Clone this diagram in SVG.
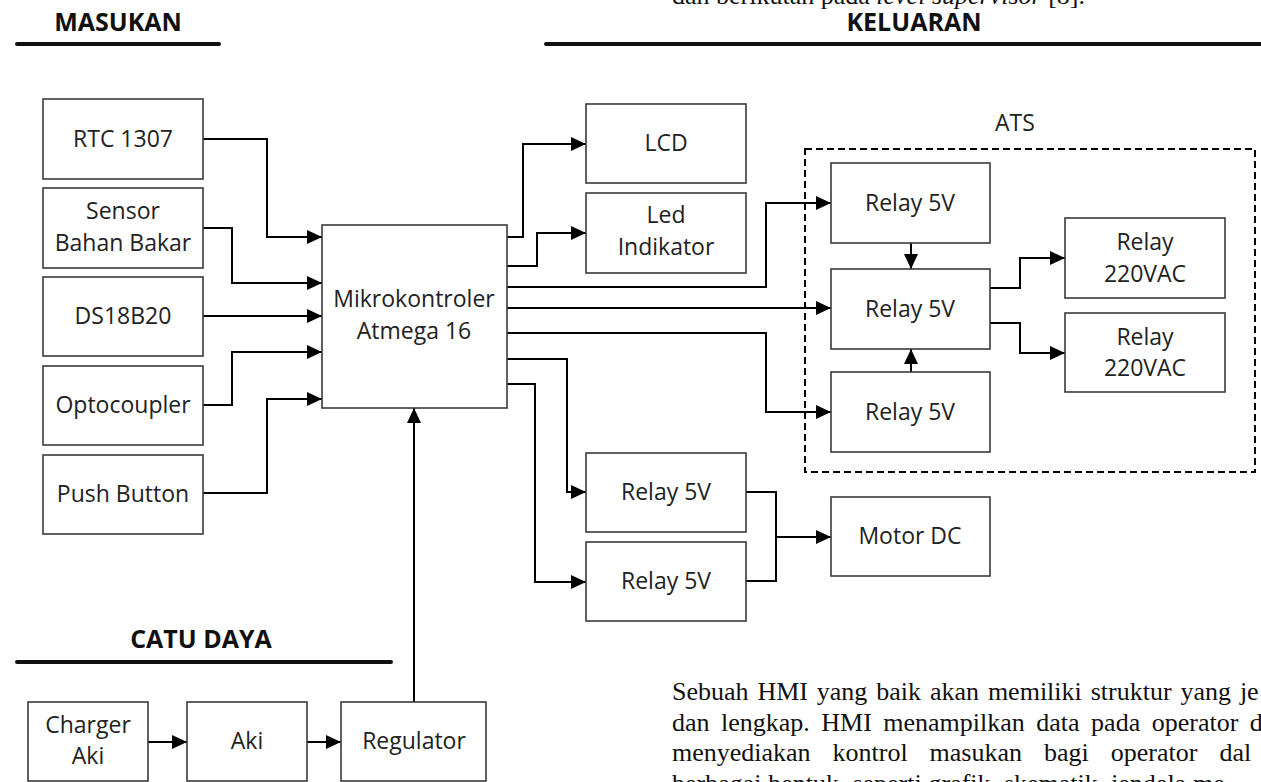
<svg xmlns="http://www.w3.org/2000/svg" width="1261" height="782" viewBox="0 0 1261 782">
<defs>
<marker id="arr" viewBox="0 0 15 14" refX="15" refY="7" markerWidth="15" markerHeight="14" markerUnits="userSpaceOnUse" orient="auto"><path d="M0,0 L15,7 L0,14 z" fill="#000"/></marker>
<style>
.box{fill:#fff;stroke:#3a3a3a;stroke-width:1.6}
.lbl{font-family:"Open Sans","Liberation Sans",sans-serif;font-size:23px;fill:#222;text-anchor:middle}
.hdr{font-family:"Open Sans","Liberation Sans",sans-serif;font-size:25px;font-weight:bold;fill:#111;text-anchor:middle}
.rule{stroke:#111;stroke-width:4;stroke-linecap:round}
.con{fill:none;stroke:#000;stroke-width:2}
.body{font-family:"Liberation Serif","Times New Roman",serif;font-size:26px;fill:#111}
</style>
</defs>
<rect width="1261" height="782" fill="#fff"/>

<!-- body text -->
<text class="body" x="672" y="4">dan berikutan pada <tspan font-style="italic">level supervisor</tspan> [8].</text>
<text class="body" y="700"><tspan x="672">Sebuah</tspan><tspan x="757.4">HMI</tspan><tspan x="816.8">yang</tspan><tspan x="876.2">baik</tspan><tspan x="929.9">akan</tspan><tspan x="987.9">memiliki</tspan><tspan x="1090.7">struktur</tspan><tspan x="1180.5">yang</tspan><tspan x="1239.9">je</tspan></text>
<text class="body" y="730.5"><tspan x="672">dan</tspan><tspan x="721">lengkap.</tspan><tspan x="821.3">HMI</tspan><tspan x="883.3">menampilkan</tspan><tspan x="1036.3">data</tspan><tspan x="1091.1">pada</tspan><tspan x="1151.7">operator</tspan><tspan x="1249.8">d</tspan></text>
<text class="body" y="761"><tspan x="672">menyediakan</tspan><tspan x="832.6">kontrol</tspan><tspan x="929.6">masukan</tspan><tspan x="1044">bagi</tspan><tspan x="1110.8">operator</tspan><tspan x="1219.4">dal</tspan></text>
<text class="body" y="792"><tspan x="672">berbagai</tspan><tspan x="768.3">bentuk,</tspan><tspan x="852.4">seperti</tspan><tspan x="928.5">grafik,</tspan><tspan x="1003.9">skematik,</tspan><tspan x="1111.1">jendela</tspan><tspan x="1193">me</tspan></text>

<!-- section headers -->
<g id="hdr-masukan"><text class="hdr" x="118" y="31">MASUKAN</text><line class="rule" x1="17" y1="44" x2="219" y2="44"/></g>
<g id="hdr-keluaran"><text class="hdr" x="914" y="31">KELUARAN</text><line class="rule" x1="546" y1="44" x2="1265" y2="44"/></g>
<g id="hdr-catu"><text class="hdr" x="201" y="648">CATU DAYA</text><line class="rule" x1="17" y1="662" x2="391" y2="662"/></g>

<!-- ATS group -->
<g id="ats">
<rect x="805" y="149" width="450" height="323" fill="none" stroke="#000" stroke-width="2" stroke-dasharray="7 4"/>
<text class="lbl" x="1015" y="131">ATS</text>
</g>

<!-- connectors -->
<g id="connectors">
<path class="con" d="M203,139 H267 V237 H322" marker-end="url(#arr)"/>
<path class="con" d="M203,228 H232 V283 H322" marker-end="url(#arr)"/>
<path class="con" d="M203,316 H322" marker-end="url(#arr)"/>
<path class="con" d="M203,405 H232 V352 H322" marker-end="url(#arr)"/>
<path class="con" d="M203,493 H267 V399 H322" marker-end="url(#arr)"/>
<path class="con" d="M507,237 H523 V144 H586" marker-end="url(#arr)"/>
<path class="con" d="M507,266 H537 V233 H586" marker-end="url(#arr)"/>
<path class="con" d="M507,287 H766 V203 H831" marker-end="url(#arr)"/>
<path class="con" d="M507,308 H831" marker-end="url(#arr)"/>
<path class="con" d="M507,333 H766 V412 H831" marker-end="url(#arr)"/>
<path class="con" d="M507,359 H567 V492 H586" marker-end="url(#arr)"/>
<path class="con" d="M507,384 H535 V582 H586" marker-end="url(#arr)"/>
<path class="con" d="M911,243 V269" marker-end="url(#arr)"/>
<path class="con" d="M911,372 V349" marker-end="url(#arr)"/>
<path class="con" d="M990,288 H1020 V258 H1065" marker-end="url(#arr)"/>
<path class="con" d="M990,323 H1020 V353 H1065" marker-end="url(#arr)"/>
<path class="con" d="M746,492 H776 V581 H746"/>
<path class="con" d="M776,537 H831" stroke-width="3" marker-end="url(#arr)"/>
<path class="con" d="M148,742 H187" marker-end="url(#arr)"/>
<path class="con" d="M307,742 H341" marker-end="url(#arr)"/>
<path class="con" d="M414,702 V408" marker-end="url(#arr)"/>
</g>

<!-- input nodes -->
<g id="rtc"><rect class="box" x="43" y="99" width="160" height="80"/><text class="lbl" x="123" y="147">RTC 1307</text></g>
<g id="sensor"><rect class="box" x="43" y="188" width="160" height="80"/><text class="lbl" x="123" y="219">Sensor</text><text class="lbl" x="123" y="251">Bahan Bakar</text></g>
<g id="ds18b20"><rect class="box" x="43" y="277" width="160" height="79"/><text class="lbl" x="123" y="324">DS18B20</text></g>
<g id="opto"><rect class="box" x="43" y="366" width="160" height="79"/><text class="lbl" x="123" y="413">Optocoupler</text></g>
<g id="push"><rect class="box" x="43" y="455" width="160" height="79"/><text class="lbl" x="123" y="502">Push Button</text></g>

<!-- controller -->
<g id="mcu"><rect class="box" x="322" y="225" width="185" height="183"/><text class="lbl" x="414" y="307">Mikrokontroler</text><text class="lbl" x="414" y="339">Atmega 16</text></g>

<!-- outputs -->
<g id="lcd"><rect class="box" x="586" y="104" width="160" height="79"/><text class="lbl" x="666" y="151">LCD</text></g>
<g id="led"><rect class="box" x="586" y="193" width="160" height="80"/><text class="lbl" x="666" y="223">Led</text><text class="lbl" x="666" y="255">Indikator</text></g>
<g id="relay-a1"><rect class="box" x="831" y="163" width="159" height="80"/><text class="lbl" x="910" y="211">Relay 5V</text></g>
<g id="relay-a2"><rect class="box" x="831" y="269" width="159" height="80"/><text class="lbl" x="910" y="317">Relay 5V</text></g>
<g id="relay-a3"><rect class="box" x="831" y="372" width="159" height="80"/><text class="lbl" x="910" y="420">Relay 5V</text></g>
<g id="relay-220a"><rect class="box" x="1065" y="218" width="160" height="80"/><text class="lbl" x="1145" y="250">Relay</text><text class="lbl" x="1145" y="282">220VAC</text></g>
<g id="relay-220b"><rect class="box" x="1065" y="313" width="160" height="79"/><text class="lbl" x="1145" y="345">Relay</text><text class="lbl" x="1145" y="376">220VAC</text></g>
<g id="relay-m1"><rect class="box" x="586" y="453" width="160" height="79"/><text class="lbl" x="666" y="500">Relay 5V</text></g>
<g id="relay-m2"><rect class="box" x="586" y="542" width="160" height="79"/><text class="lbl" x="666" y="589">Relay 5V</text></g>
<g id="motor"><rect class="box" x="831" y="497" width="159" height="79"/><text class="lbl" x="910" y="544">Motor DC</text></g>

<!-- power supply -->
<g id="charger"><rect class="box" x="28" y="702" width="120" height="79"/><text class="lbl" x="88" y="733">Charger</text><text class="lbl" x="88" y="764">Aki</text></g>
<g id="aki"><rect class="box" x="187" y="702" width="120" height="79"/><text class="lbl" x="247" y="749">Aki</text></g>
<g id="regulator"><rect class="box" x="341" y="702" width="145" height="79"/><text class="lbl" x="414" y="749">Regulator</text></g>
</svg>
